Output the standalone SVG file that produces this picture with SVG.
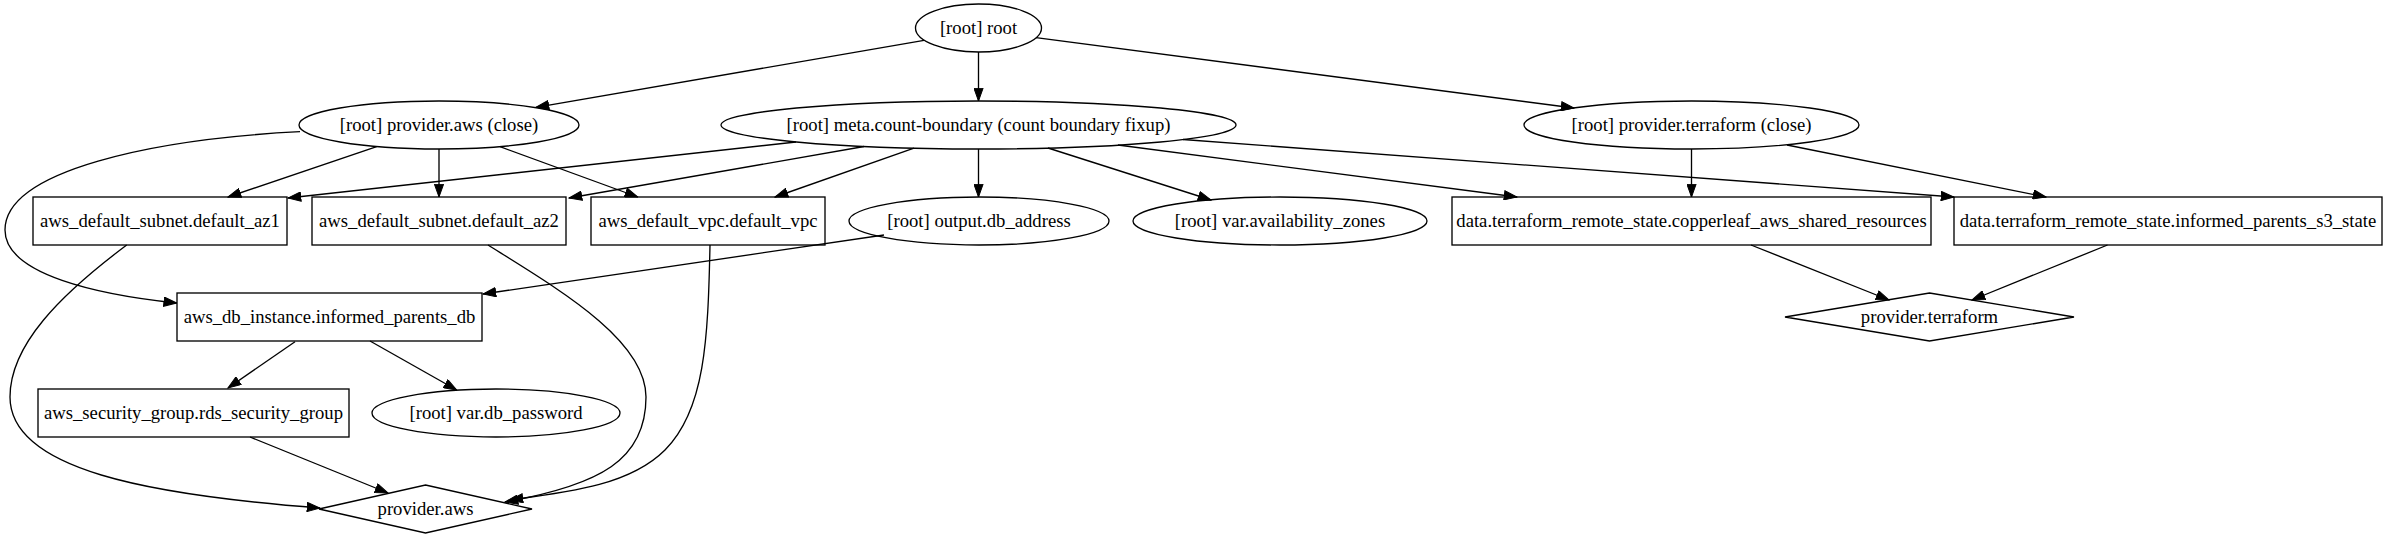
<svg xmlns="http://www.w3.org/2000/svg" width="2388" height="539" viewBox="0 0 2388 539">
<style>
.n{fill:none;stroke:#000;stroke-width:1.33}
.t{font-family:"Liberation Serif","Times New Roman",serif;font-size:18.67px;fill:#000;text-anchor:middle}
.e{fill:none;stroke:#000;stroke-width:1.33;marker-end:url(#ah)}
</style>
<defs>
<marker id="ah" markerUnits="userSpaceOnUse" viewBox="0 0 14 10" refX="13.3" refY="5" markerWidth="14" markerHeight="10" orient="auto">
<path d="M0.5,0.4 L13.3,5 L0.5,9.6 z" fill="#000" stroke="#000" stroke-width="1"/>
</marker>
</defs>
<rect width="2388" height="539" fill="#fff"/>
<g id="connectors">
<path class="e" d="M924,40.4 L536,107.3"/>
<path class="e" d="M978.5,52 L978.5,101"/>
<path class="e" d="M1036,37.7 L1574,108"/>
<path class="e" d="M376.7,146.7 L228,197"/>
<path class="e" d="M439,149 L439,197"/>
<path class="e" d="M500,146.7 L637.8,197"/>
<path class="e" d="M300,131.7 C155,139 5,170 5,230 C5,275 100,295 176.7,303"/>
<path class="e" d="M796,142 L288,198"/>
<path class="e" d="M864,146.5 L569,198"/>
<path class="e" d="M914,148.2 L775,197"/>
<path class="e" d="M978.5,149 L978.5,197"/>
<path class="e" d="M1048,148 L1211,200"/>
<path class="e" d="M1118,145 L1517,197"/>
<path class="e" d="M1183,139.5 L1954,197"/>
<path class="e" d="M1691.5,149 L1691.5,197"/>
<path class="e" d="M1787,145 L2046,197"/>
<path class="e" d="M1751,245 L1889,300"/>
<path class="e" d="M2107.5,245 L1972,300"/>
<path class="e" d="M126.7,245 C60,295 10,345 10,397 C10,470 150,495 320,508"/>
<path class="e" d="M488,245 C560,290 646,340 646,397 C646,460 600,485 505,502"/>
<path class="e" d="M710,245 C708,340 705,410 665,450 C630,485 570,492 510,500"/>
<path class="e" d="M884,235 L483,294"/>
<path class="e" d="M295,341.7 L228,388"/>
<path class="e" d="M370,341 L456.7,390"/>
<path class="e" d="M250,437 L388,493"/>
</g>
<g id="root"><ellipse class="n" cx="978.5" cy="28" rx="63" ry="24"/><text class="t" x="978.5" y="34">[root] root</text></g>
<g id="provider_aws_close"><ellipse class="n" cx="439" cy="125" rx="140" ry="24"/><text class="t" x="439" y="131">[root] provider.aws (close)</text></g>
<g id="meta_count_boundary"><ellipse class="n" cx="978.5" cy="125" rx="257.5" ry="24"/><text class="t" x="978.5" y="131">[root] meta.count-boundary (count boundary fixup)</text></g>
<g id="provider_terraform_close"><ellipse class="n" cx="1691.5" cy="125" rx="167.5" ry="24"/><text class="t" x="1691.5" y="131">[root] provider.terraform (close)</text></g>
<g id="subnet_az1"><rect class="n" x="33" y="197" width="254" height="48"/><text class="t" x="160" y="227">aws_default_subnet.default_az1</text></g>
<g id="subnet_az2"><rect class="n" x="312" y="197" width="254" height="48"/><text class="t" x="439" y="227">aws_default_subnet.default_az2</text></g>
<g id="default_vpc"><rect class="n" x="591" y="197" width="234" height="48"/><text class="t" x="708" y="227">aws_default_vpc.default_vpc</text></g>
<g id="output_db_address"><ellipse class="n" cx="979" cy="221" rx="130" ry="24"/><text class="t" x="979" y="227">[root] output.db_address</text></g>
<g id="var_availability_zones"><ellipse class="n" cx="1280" cy="221" rx="147" ry="24"/><text class="t" x="1280" y="227">[root] var.availability_zones</text></g>
<g id="remote_state_copperleaf"><rect class="n" x="1452" y="197" width="479" height="48"/><text class="t" x="1691.5" y="227">data.terraform_remote_state.copperleaf_aws_shared_resources</text></g>
<g id="remote_state_informed"><rect class="n" x="1954" y="197" width="428" height="48"/><text class="t" x="2168" y="227">data.terraform_remote_state.informed_parents_s3_state</text></g>
<g id="db_instance"><rect class="n" x="177" y="293" width="305" height="48"/><text class="t" x="329.5" y="323">aws_db_instance.informed_parents_db</text></g>
<g id="provider_terraform"><polygon class="n" points="1929.5,293 2074,317 1929.5,341 1785,317"/><text class="t" x="1929.5" y="323">provider.terraform</text></g>
<g id="security_group"><rect class="n" x="38" y="389" width="311" height="48"/><text class="t" x="193.5" y="419">aws_security_group.rds_security_group</text></g>
<g id="var_db_password"><ellipse class="n" cx="496" cy="413" rx="124" ry="24"/><text class="t" x="496" y="419">[root] var.db_password</text></g>
<g id="provider_aws"><polygon class="n" points="425.5,485 532,509 425.5,533 319,509"/><text class="t" x="425.5" y="515">provider.aws</text></g>
</svg>
